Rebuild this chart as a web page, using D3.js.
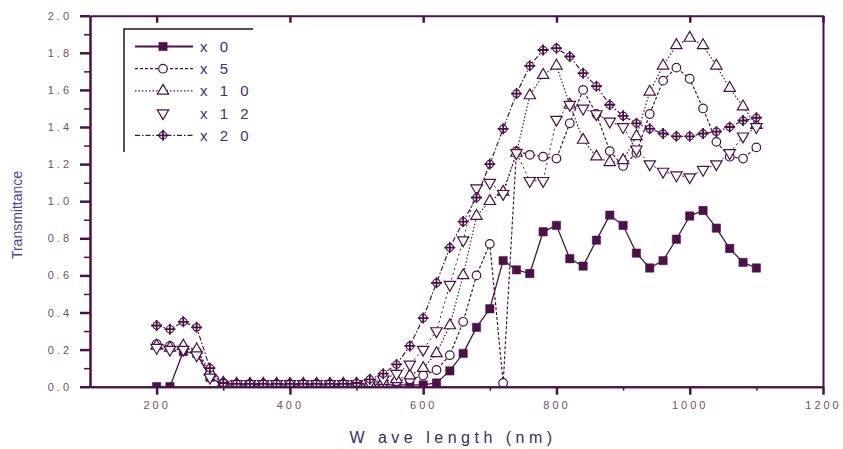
<!DOCTYPE html>
<html><head><meta charset="utf-8">
<script src="https://cdn.jsdelivr.net/npm/d3@7"></script>
<style>body{margin:0;background:#fff;} svg{display:block;}</style>
</head><body><svg id="c" width="843" height="449"></svg>
<script>
// ---------- data ----------
const wavelength = [200,220,240,260,280,300,320,340,360,380,400,420,440,460,480,500,520,540,560,580,600,620,640,660,680,700,720,740,760,780,800,820,840,860,880,900,920,940,960,980,1000,1020,1040,1060,1080,1100];
const x0  = [0.00,0.00,0.19,0.18,0.05,0.01,0.01,0.01,0.01,0.01,0.01,0.01,0.01,0.01,0.01,0.01,0.01,0.01,0.01,0.01,0.01,0.02,0.085,0.18,0.32,0.42,0.68,0.63,0.61,0.835,0.87,0.69,0.65,0.79,0.925,0.87,0.72,0.64,0.68,0.795,0.92,0.95,0.855,0.745,0.67,0.64];
const x5  = [0.23,0.22,0.21,0.19,0.07,0.02,0.015,0.015,0.015,0.015,0.015,0.015,0.015,0.015,0.015,0.015,0.02,0.02,0.03,0.04,0.06,0.09,0.17,0.35,0.60,0.77,0.02,1.27,1.25,1.24,1.23,1.42,1.60,1.47,1.27,1.19,1.26,1.47,1.65,1.72,1.66,1.50,1.32,1.24,1.23,1.29];
const x10 = [0.22,0.21,0.22,0.20,0.08,0.02,0.015,0.015,0.015,0.015,0.015,0.015,0.015,0.015,0.015,0.015,0.02,0.03,0.04,0.06,0.10,0.18,0.33,0.60,0.92,1.00,1.05,1.26,1.57,1.68,1.73,1.52,1.33,1.24,1.21,1.22,1.35,1.59,1.73,1.84,1.88,1.84,1.73,1.61,1.51,1.41];
const x12 = [0.21,0.20,0.20,0.17,0.05,0.01,0.015,0.015,0.015,0.015,0.015,0.015,0.015,0.015,0.015,0.015,0.02,0.04,0.07,0.12,0.20,0.30,0.55,0.79,1.07,1.10,1.04,1.26,1.11,1.11,1.44,1.52,1.50,1.47,1.43,1.40,1.28,1.20,1.16,1.14,1.13,1.17,1.20,1.26,1.35,1.40];
const x20 = [0.33,0.31,0.35,0.32,0.10,0.02,0.015,0.015,0.015,0.015,0.015,0.015,0.015,0.015,0.015,0.02,0.04,0.07,0.12,0.22,0.37,0.56,0.75,0.89,1.02,1.20,1.39,1.58,1.73,1.815,1.825,1.78,1.69,1.62,1.52,1.46,1.42,1.39,1.365,1.35,1.35,1.365,1.375,1.40,1.435,1.45];
const seriesLabels = ["x 0","x 5","x 1 0","x 1 2","x 2 0"];
const xTicks = [200,400,600,800,1000,1200];
const xMinorTicks = [300,500,700,900,1100];
const yTicks = [0.0,0.2,0.4,0.6,0.8,1.0,1.2,1.4,1.6,1.8,2.0];
const yMinorTicks = [0.1,0.3,0.5,0.7,0.9,1.1,1.3,1.5,1.7,1.9];

// ---------- setup ----------
const svg = d3.select("#c");
const ink = "#4a1247";
const FONT = "'Liberation Sans', Arial, sans-serif";
const x = d3.scaleLinear().domain([100,1200]).range([90,823]);
const y = d3.scaleLinear().domain([0,2]).range([386.7,15.7]);

const series = [
  {name: seriesLabels[0], values: x0,  marker: "square",  dash: null,        lineW: 1.3, legendLine: true},
  {name: seriesLabels[1], values: x5,  marker: "circle",  dash: "3,2",       lineW: 1.2, legendLine: true},
  {name: seriesLabels[2], values: x10, marker: "triUp",   dash: "1.5,2",     lineW: 1.2, legendLine: true},
  {name: seriesLabels[3], values: x12, marker: "triDown", dash: "2,3",       lineW: 1,   legendLine: false},
  {name: seriesLabels[4], values: x20, marker: "plusO",   dash: "5,2,1.5,2", lineW: 1.2, legendLine: true}
];

function drawMarker(g, type, cx, cy) {
  if (type === "square") {
    g.append("path").attr("d", d3.symbol(d3.symbolSquare, 70)()).attr("transform", `translate(${cx},${cy})`)
      .attr("fill", ink).attr("stroke", ink).attr("stroke-width", 0.5);
  } else if (type === "circle") {
    g.append("circle").attr("cx", cx).attr("cy", cy).attr("r", 4.3)
      .attr("fill", "#fff").attr("stroke", ink).attr("stroke-width", 1.2);
  } else if (type === "triUp") {
    g.append("path").attr("d", d3.symbol(d3.symbolTriangle, 56)()).attr("transform", `translate(${cx},${cy})`)
      .attr("fill", "#fff").attr("stroke", ink).attr("stroke-width", 1.2);
  } else if (type === "triDown") {
    g.append("path").attr("d", d3.symbol(d3.symbolTriangle, 56)()).attr("transform", `translate(${cx},${cy}) rotate(180)`)
      .attr("fill", "#fff").attr("stroke", ink).attr("stroke-width", 1.2);
  } else if (type === "plusO") {
    g.append("circle").attr("cx", cx).attr("cy", cy).attr("r", 3.7)
      .attr("fill", "#fff").attr("stroke", ink).attr("stroke-width", 1.2);
    g.append("path").attr("d", `M${cx-5.5},${cy}H${cx+5.5}M${cx},${cy-5.5}V${cy+5.5}`)
      .attr("stroke", ink).attr("stroke-width", 1.8);
  }
}

// clip
svg.append("defs").append("clipPath").attr("id", "plotclip")
  .append("rect").attr("x", x(100)).attr("y", y(2)).attr("width", x(1200) - x(100)).attr("height", y(0) - y(2));

const plot = svg.append("g").attr("clip-path", "url(#plotclip)");
const line = d3.line().x((d, i) => x(wavelength[i])).y(d => y(d));

series.forEach(s => {
  plot.append("path").datum(s.values).attr("d", line)
    .attr("fill", "none").attr("stroke", ink).attr("stroke-width", s.lineW)
    .attr("stroke-dasharray", s.dash);
});
series.forEach(s => {
  const mg = plot.append("g");
  s.values.forEach((v, i) => drawMarker(mg, s.marker, x(wavelength[i]), y(v)));
});

// ---------- axes ----------
function styleAxis(g, tw) {
  g.selectAll(".domain").attr("stroke", ink).attr("stroke-width", 2);
  g.selectAll(".tick line").attr("stroke", ink).attr("stroke-width", tw);
  g.selectAll(".tick text").attr("fill", "#72506c").style("font-family", FONT)
    .style("font-size", "11px").style("letter-spacing", "3px");
}
const gxMinor = svg.append("g").attr("transform", `translate(0,${y(0)})`)
  .call(d3.axisBottom(x).tickValues(xMinorTicks).tickSize(4).tickSizeOuter(0).tickFormat(""));
styleAxis(gxMinor, 1.5);
const gx = svg.append("g").attr("transform", `translate(0,${y(0)})`)
  .call(d3.axisBottom(x).tickValues(xTicks).tickSize(8).tickSizeOuter(0).tickPadding(7).tickFormat(d3.format("d")));
styleAxis(gx, 2.5);

const gyMinor = svg.append("g").attr("transform", `translate(${x(100)},0)`)
  .call(d3.axisLeft(y).tickValues(yMinorTicks).tickSize(6).tickSizeOuter(0).tickFormat(""));
styleAxis(gyMinor, 1.5);
const gy = svg.append("g").attr("transform", `translate(${x(100)},0)`)
  .call(d3.axisLeft(y).tickValues(yTicks).tickSize(10).tickSizeOuter(0).tickPadding(8).tickFormat(d3.format(".1f")));
styleAxis(gy, 2.5);

const gTop = svg.append("g").attr("transform", `translate(0,${y(2)})`)
  .call(d3.axisTop(x).tickValues(xTicks).tickSize(-7).tickSizeOuter(0).tickFormat(""));
styleAxis(gTop, 2.5);
const gRight = svg.append("g").attr("transform", `translate(${x(1200)},0)`)
  .call(d3.axisRight(y).tickValues([]).tickSizeOuter(0));
styleAxis(gRight, 2);

// axis titles
svg.append("text").attr("x", 453).attr("y", 443).attr("text-anchor", "middle")
  .style("font-family", FONT).style("font-size", "16px").style("letter-spacing", "4.5px")
  .attr("fill", "#3c2a66").text("W ave length (nm)");
svg.append("text").attr("transform", "translate(22,215) rotate(-90)").attr("text-anchor", "middle")
  .style("font-family", FONT).style("font-size", "14px")
  .attr("fill", "#48489a").text("Transmittance");

// ---------- legend ----------
const lg = svg.append("g");
lg.append("path").attr("d", "M124,152V29H253").attr("fill", "none").attr("stroke", "#2a0a2a").attr("stroke-width", 1.5);
series.forEach((s, i) => {
  const cy = 46.5 + i * 22.2;
  if (s.legendLine) {
    lg.append("line").attr("x1", 135).attr("x2", 193).attr("y1", cy).attr("y2", cy)
      .attr("stroke", ink).attr("stroke-width", s.marker === "square" ? 1.8 : 1.2)
      .attr("stroke-dasharray", s.dash);
  }
  drawMarker(lg, s.marker, 163, cy);
  lg.append("text").attr("x", 200).attr("y", cy + 5.5)
    .style("font-family", FONT).style("font-size", "15px").style("letter-spacing", "4px")
    .attr("fill", "#3f2e7a").text(s.name);
});
</script>
</body></html>
